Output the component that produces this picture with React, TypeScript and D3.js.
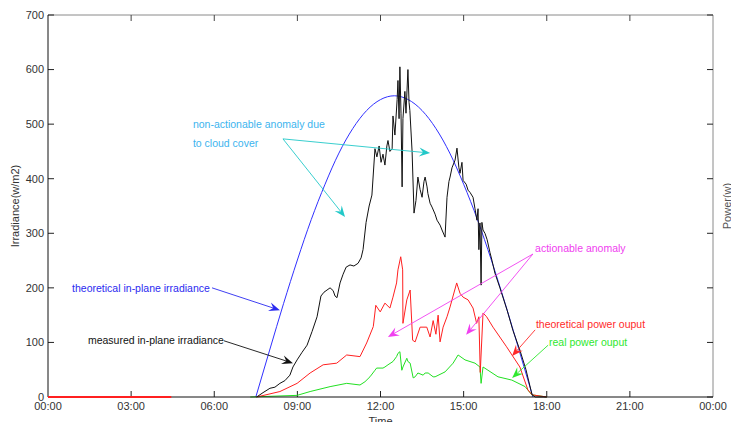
import React from "react";
import * as d3 from "d3";

const W = 731, H = 422;
const M = { left: 48, right: 18, top: 15, bottom: 25 };

const xTicks = [0, 3, 6, 9, 12, 15, 18, 21, 24];
const xTickLabels = ["00:00", "03:00", "06:00", "09:00", "12:00", "15:00", "18:00", "21:00", "00:00"];
const yTicks = [0, 100, 200, 300, 400, 500, 600, 700];

// theoretical in-plane irradiance [hour, W/m2]
const theoretical: [number, number][] = [
  [7.5, 0], [8.0, 86], [8.5, 171], [9.0, 251], [9.5, 325], [10.0, 390], [10.5, 447], [11.0, 492],
  [11.5, 525], [12.0, 545], [12.5, 552], [13.0, 545], [13.5, 525], [14.0, 492], [14.5, 447],
  [15.0, 390], [15.5, 325], [16.0, 251], [16.5, 171], [17.0, 86], [17.5, 0],
];

// measured in-plane irradiance [hour, W/m2]
const measured: [number, number][] = [
  [7.53, 0], [7.76, 8], [8.01, 16], [8.19, 18], [8.37, 25], [8.55, 30], [8.73, 40], [8.84, 55],
  [8.99, 68], [9.17, 82], [9.35, 95], [9.53, 120], [9.71, 147], [9.85, 185], [9.96, 192],
  [10.07, 196], [10.18, 200], [10.29, 195], [10.36, 185], [10.43, 182], [10.54, 209], [10.65, 225],
  [10.76, 238], [10.9, 242], [11.04, 240], [11.19, 245], [11.3, 255], [11.37, 270], [11.48, 320],
  [11.59, 350], [11.69, 370], [11.8, 455], [11.87, 440], [11.95, 460], [12.02, 430], [12.09, 445],
  [12.16, 425], [12.23, 460], [12.27, 470], [12.34, 450], [12.42, 455], [12.45, 515], [12.52, 480],
  [12.6, 545], [12.63, 580], [12.67, 510], [12.7, 605], [12.74, 520], [12.78, 385], [12.81, 510],
  [12.88, 560], [12.92, 520], [12.99, 600], [13.03, 540], [13.06, 525], [13.14, 450], [13.21, 337],
  [13.28, 360], [13.35, 403], [13.43, 380], [13.5, 366], [13.57, 395], [13.61, 403], [13.68, 385],
  [13.71, 373], [13.79, 355], [13.86, 348], [13.97, 335], [14.04, 324], [14.15, 315], [14.22, 306],
  [14.33, 293], [14.4, 366], [14.47, 395], [14.51, 403], [14.58, 420], [14.69, 434], [14.76, 456],
  [14.83, 420], [14.87, 410], [14.94, 430], [14.98, 397], [15.09, 390], [15.16, 379], [15.23, 375],
  [15.34, 366], [15.41, 345], [15.48, 324], [15.52, 345], [15.55, 270], [15.59, 319], [15.63, 205],
  [15.66, 320], [15.7, 306], [15.77, 300], [15.85, 288], [15.95, 265], [16.02, 251], [16.13, 227],
  [16.31, 200], [16.57, 159], [16.78, 122], [17.03, 86], [17.25, 50], [17.47, 4], [17.58, 0], [18.0, 0],
];

// theoretical power output [hour, W]
const theoPower: [number, number][] = [
  [7.53, 0], [8.37, 10], [8.99, 25], [9.46, 44], [9.93, 59], [10.42, 62], [10.78, 77], [11.26, 74],
  [11.5, 99], [11.74, 129], [11.83, 168], [11.99, 156], [12.16, 172], [12.34, 163], [12.45, 183],
  [12.58, 209], [12.63, 233], [12.73, 257], [12.8, 233], [12.81, 135], [12.95, 178], [13.07, 196],
  [13.16, 104], [13.25, 101], [13.43, 128], [13.67, 128], [13.79, 110], [13.9, 140], [14.0, 115],
  [14.08, 150], [14.15, 101], [14.26, 128], [14.4, 147], [14.51, 165], [14.75, 209], [14.87, 190],
  [14.98, 183], [15.16, 178], [15.34, 163], [15.47, 135], [15.55, 147], [15.6, 45], [15.7, 154],
  [15.83, 147], [16.06, 128], [16.55, 92], [17.03, 55], [17.32, 13], [17.47, 4], [18.0, 0],
];
const nightPower: [number, number][] = [[0, 0], [4.45, 0]];

// real power output [hour, W]
const realPower: [number, number][] = [
  [7.3, 0], [8.99, 3], [9.46, 10], [10.18, 19], [10.78, 25], [11.26, 22], [11.44, 28], [11.62, 37],
  [11.8, 49], [11.86, 53], [12.09, 53], [12.16, 55], [12.27, 59], [12.45, 65], [12.58, 74],
  [12.63, 80], [12.7, 83], [12.77, 49], [12.81, 55], [12.95, 71], [12.99, 65], [13.07, 62],
  [13.18, 35], [13.25, 37], [13.35, 44], [13.54, 40], [13.61, 44], [13.72, 44], [13.9, 37],
  [13.97, 37], [14.33, 46], [14.62, 62], [14.8, 77], [15.05, 68], [15.41, 62], [15.59, 55],
  [15.63, 25], [15.7, 55], [15.88, 49], [16.24, 37], [16.74, 31], [17.22, 19], [17.46, 4], [18.0, 0],
];

// annotations: text position [hour, value], arrows from -> to in data units
type Ann = { lines: string[]; at: [number, number]; color: string; arrowColor: string; arrows: [[number, number], [number, number]][] };
const annotations: Ann[] = [
  { lines: ["non-actionable anomaly due", "to cloud cover"], at: [5.23, 500], color: "#3cb4ee", arrowColor: "#22c8c8",
    arrows: [[[8.48, 473], [13.79, 447]], [[8.48, 473], [10.72, 330]]] },
  { lines: ["theoretical in-plane irradiance"], at: [0.87, 200], color: "#2a2af0", arrowColor: "#2a2af0",
    arrows: [[[5.92, 200], [8.37, 159]]] },
  { lines: ["measured in-plane irradiance"], at: [1.44, 104], color: "#111", arrowColor: "#111",
    arrows: [[[6.35, 103], [8.84, 62]]] },
  { lines: ["actionable anomaly"], at: [17.58, 273], color: "#f040f0", arrowColor: "#f040f0",
    arrows: [[[17.5, 262], [12.27, 110]], [[17.5, 262], [15.09, 114]]] },
  { lines: ["theoretical power ouput"], at: [17.61, 134], color: "#ff2a2a", arrowColor: "#ff2a2a",
    arrows: [[[17.58, 123], [16.75, 75]]] },
  { lines: ["real power ouput"], at: [18.08, 101], color: "#2ee82e", arrowColor: "#2ee82e",
    arrows: [[[18.05, 95], [16.75, 35]]] },
];

const FONT = "'Liberation Sans', Arial, sans-serif";

function Arrow({ x1, y1, x2, y2, color }: { x1: number; y1: number; x2: number; y2: number; color: string }) {
  const dx = x2 - x1, dy = y2 - y1;
  const len = Math.hypot(dx, dy);
  const ux = dx / len, uy = dy / len;
  const px = -uy, py = ux;
  const L = 11, Wd = 4.5, notch = 7;
  const bx = x2 - ux * L, by = y2 - uy * L;
  const nx = x2 - ux * notch, ny = y2 - uy * notch;
  const pts = [
    [x2, y2], [bx + px * Wd, by + py * Wd], [nx, ny], [bx - px * Wd, by - py * Wd],
  ].map((p) => p.join(",")).join(" ");
  return (
    <g>
      <line x1={x1} y1={y1} x2={nx} y2={ny} stroke={color} strokeWidth={0.9} />
      <polygon points={pts} fill={color} />
    </g>
  );
}

export default function App() {
  const x = d3.scaleLinear().domain([0, 24]).range([M.left, W - M.right]);
  const y = d3.scaleLinear().domain([0, 700]).range([H - M.bottom, M.top]);
  const line = d3.line<[number, number]>().x((d) => x(d[0])).y((d) => y(d[1]));
  const smooth = d3.line<[number, number]>().x((d) => x(d[0])).y((d) => y(d[1])).curve(d3.curveMonotoneX);
  const x0 = x(0), x1 = x(24), y0 = y(0), y1 = y(700);

  return (
    <svg width={W} height={H} style={{ position: "absolute", left: 0, top: 0, background: "#fff" }} fontFamily={FONT}>
      {/* frame */}
      <line x1={x0} y1={y1} x2={x1} y2={y1} stroke="#8a8a8a" />
      <line x1={x1} y1={y1} x2={x1} y2={y0} stroke="#8a8a8a" />
      {/* x ticks */}
      {xTicks.map((t, i) => (
        <g key={"xt" + i}>
          {i > 0 && i < xTicks.length - 1 && (
            <>
              <line x1={x(t)} x2={x(t)} y1={y0} y2={y0 - 6} stroke="#222" />
              <line x1={x(t)} x2={x(t)} y1={y1} y2={y1 + 6} stroke="#444" />
            </>
          )}
          <text x={x(t)} y={y0 + 13} textAnchor="middle" fontSize={11} fill="#333">{xTickLabels[i]}</text>
        </g>
      ))}
      {/* y ticks */}
      {yTicks.map((v) => (
        <g key={"yt" + v}>
          <line x1={x0} x2={x0 + 6} y1={y(v)} y2={y(v)} stroke="#222" />
          <line x1={x1} x2={x1 - 6} y1={y(v)} y2={y(v)} stroke="#222" />
          <text x={x0 - 4} y={y(v)} dy="0.35em" textAnchor="end" fontSize={11} fill="#333">{v}</text>
        </g>
      ))}
      {/* series */}
      <path d={smooth(theoretical) || ""} fill="none" stroke="#3030ff" strokeWidth={1} />
      <path d={line(realPower) || ""} fill="none" stroke="#22e022" strokeWidth={1} />
      <path d={line(theoPower) || ""} fill="none" stroke="#ff2020" strokeWidth={1} />
      <path d={line(measured) || ""} fill="none" stroke="#111" strokeWidth={1} />
      {/* axes */}
      <line x1={x0} y1={y1} x2={x0} y2={y0} stroke="#111" />
      <line x1={x0} y1={y0} x2={x1} y2={y0} stroke="#111" />
      <path d={line(nightPower) || ""} fill="none" stroke="#ff2020" strokeWidth={2} />
      {/* annotations */}
      {annotations.map((a, i) => (
        <g key={"an" + i}>
          {a.arrows.map((ar, j) => (
            <Arrow key={j} x1={x(ar[0][0])} y1={y(ar[0][1])} x2={x(ar[1][0])} y2={y(ar[1][1])} color={a.arrowColor} />
          ))}
          {a.lines.map((s, j) => (
            <text key={j} x={x(a.at[0])} y={y(a.at[1]) + j * 19} dy="0.35em" fontSize={10.5} fill={a.color}>{s}</text>
          ))}
        </g>
      ))}
      {/* axis titles */}
      <text x={x((0 + 24) / 2)} y={H + 3} textAnchor="middle" fontSize={11} fill="#333">Time</text>
      <text transform={`translate(19,${y(350) + 0}) rotate(-90)`} textAnchor="middle" fontSize={11} fill="#333">Irradiance(w/m2)</text>
      <text transform={`translate(731,${y(350)}) rotate(-90)`} textAnchor="middle" fontSize={11} fill="#555">Power(w)</text>
    </svg>
  );
}
